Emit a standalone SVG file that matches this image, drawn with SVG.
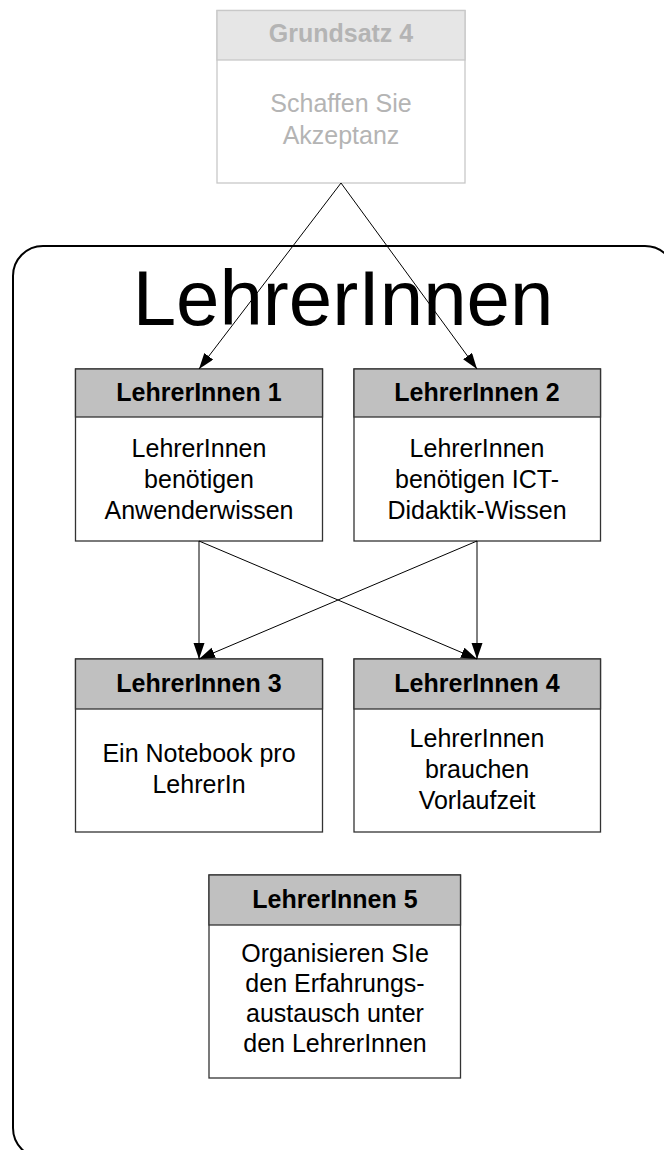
<svg xmlns="http://www.w3.org/2000/svg" width="664" height="1150" viewBox="0 0 664 1150">
  <style>
    text { font-family: "Liberation Sans", Arial, sans-serif; text-anchor: middle; }
    .hdr { font-size: 25px; font-weight: bold; fill: #000; }
    .body { font-size: 25px; fill: #000; }
    .box { fill: #fff; stroke: #333; stroke-width: 1.3; }
    .head { fill: #c0c0c0; stroke: #333; stroke-width: 1.3; }
    .gbox { fill: #fff; stroke: #c8c8c8; stroke-width: 1.3; }
    .ghead { fill: #e6e6e6; stroke: #c8c8c8; stroke-width: 1.3; }
    .gtxt { fill: #b4b4b4; }
    .edge { stroke: #000; stroke-width: 1; fill: none; marker-end: url(#arrow); }
  </style>
  <defs>
    <marker id="arrow" markerUnits="userSpaceOnUse" markerWidth="17" markerHeight="12" refX="16" refY="5.5" orient="auto">
      <path d="M0,0 L16,5.5 L0,11 z" fill="#000"/>
    </marker>
  </defs>
  <rect width="664" height="1150" fill="#fff"/>

  <!-- group container -->
  <g id="group-lehrerinnen">
    <rect x="13" y="246" width="662" height="912" rx="30" ry="30" fill="none" stroke="#000" stroke-width="2"/>
    <text x="343" y="325" style="font-size:78px">LehrerInnen</text>
  </g>

  <!-- principle node -->
  <g id="grundsatz-4">
    <rect class="gbox" x="217" y="10.5" width="248" height="172.5"/>
    <rect class="ghead" x="217" y="10.5" width="248" height="49.5"/>
    <text class="hdr gtxt" x="341" y="42">Grundsatz 4</text>
    <text class="body gtxt" x="341" y="112">Schaffen Sie</text>
    <text class="body gtxt" x="341" y="143.5">Akzeptanz</text>
  </g>

  <g id="lehrerinnen-1">
    <rect class="box" x="75.5" y="369" width="247" height="172"/>
    <rect class="head" x="75.5" y="369" width="247" height="48"/>
    <text class="hdr" x="199" y="401">LehrerInnen 1</text>
    <text class="body" x="199" y="457">LehrerInnen</text>
    <text class="body" x="199" y="488">benötigen</text>
    <text class="body" x="199" y="519">Anwenderwissen</text>
  </g>

  <g id="lehrerinnen-2">
    <rect class="box" x="354" y="369" width="246.5" height="172"/>
    <rect class="head" x="354" y="369" width="246.5" height="48"/>
    <text class="hdr" x="477" y="401">LehrerInnen 2</text>
    <text class="body" x="477" y="457">LehrerInnen</text>
    <text class="body" x="477" y="488">benötigen ICT-</text>
    <text class="body" x="477" y="519">Didaktik-Wissen</text>
  </g>

  <g id="lehrerinnen-3">
    <rect class="box" x="75.5" y="659" width="247" height="173"/>
    <rect class="head" x="75.5" y="659" width="247" height="50"/>
    <text class="hdr" x="199" y="692">LehrerInnen 3</text>
    <text class="body" x="199" y="762">Ein Notebook pro</text>
    <text class="body" x="199" y="793">LehrerIn</text>
  </g>

  <g id="lehrerinnen-4">
    <rect class="box" x="354" y="659" width="246.5" height="173"/>
    <rect class="head" x="354" y="659" width="246.5" height="50"/>
    <text class="hdr" x="477" y="692">LehrerInnen 4</text>
    <text class="body" x="477" y="747">LehrerInnen</text>
    <text class="body" x="477" y="778">brauchen</text>
    <text class="body" x="477" y="809">Vorlaufzeit</text>
  </g>

  <g id="lehrerinnen-5">
    <rect class="box" x="209" y="875" width="251.5" height="203"/>
    <rect class="head" x="209" y="875" width="251.5" height="50"/>
    <text class="hdr" x="335" y="908">LehrerInnen 5</text>
    <text class="body" x="335" y="962">Organisieren SIe</text>
    <text class="body" x="335" y="992">den Erfahrungs-</text>
    <text class="body" x="335" y="1022">austausch unter</text>
    <text class="body" x="335" y="1052">den LehrerInnen</text>
  </g>

  <!-- connectors -->
  <g id="connectors">
    <line class="edge" x1="341" y1="183" x2="199" y2="369"/>
    <line class="edge" x1="341" y1="183" x2="477" y2="369"/>
    <line class="edge" x1="199" y1="541" x2="199" y2="659"/>
    <line class="edge" x1="199" y1="541" x2="477" y2="659"/>
    <line class="edge" x1="477" y1="541" x2="199" y2="659"/>
    <line class="edge" x1="477" y1="541" x2="477" y2="659"/>
  </g>
</svg>
